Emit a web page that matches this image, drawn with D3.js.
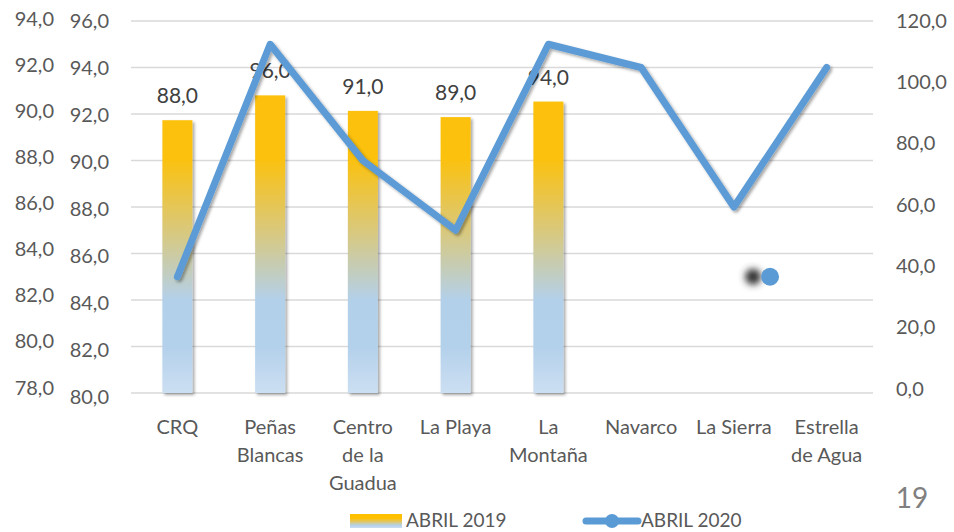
<!DOCTYPE html>
<html>
<head>
<meta charset="utf-8">
<script src="https://cdn.jsdelivr.net/npm/d3@7"></script>
<style>
  body { margin: 0; background: #fff; }
  text { font-family: Lato, "Open Sans", sans-serif; }
</style>
</head>
<body>
<script>
var width = 954;
var height = 532;

// data
var categories = ["CRQ", "Peñas Blancas", "Centro de la Guadua", "La Playa", "La Montaña", "Navarco", "La Sierra", "Estrella de Agua"];
var catLines = [["CRQ"], ["Peñas", "Blancas"], ["Centro", "de la", "Guadua"], ["La Playa"], ["La", "Montaña"], ["Navarco"], ["La Sierra"], ["Estrella", "de Agua"]];
var abril2019 = [88, 96, 91, 89, 94, null, null, null];
var abril2020 = [85, 95, 90, 87, 95, 94, 88, 94];
var leftOuterTicks = [78, 80, 82, 84, 86, 88, 90, 92, 94];
var leftInnerTicks = [80, 82, 84, 86, 88, 90, 92, 94, 96];
var rightTicks = [0, 20, 40, 60, 80, 100, 120];
// lone marker left near La Sierra (index position, value on inner axis)
var strayPoint = [{pos: 6.39, value: 85}];

var fmt = function(v) { return d3.format(".1f")(v).replace(".", ","); };

var svg = d3.select("body")
            .append("svg")
            .attr("width", width)
            .attr("height", height);

var defs = svg.append("defs");

// bar gradient, yellow on top fading into light blue
var grad = defs.append("linearGradient")
               .attr("id", "barGrad")
               .attr("gradientUnits", "userSpaceOnUse")
               .attr("x1", 0).attr("y1", 21)
               .attr("x2", 0).attr("y2", 393);
grad.append("stop").attr("offset", "0").attr("stop-color", "#FFC000");
grad.append("stop").attr("offset", "0.37").attr("stop-color", "#FBC10E");
grad.append("stop").attr("offset", "0.55").attr("stop-color", "#DCC874");
grad.append("stop").attr("offset", "0.75").attr("stop-color", "#B3D0EA");
grad.append("stop").attr("offset", "0.88").attr("stop-color", "#B4D1EB");
grad.append("stop").attr("offset", "1").attr("stop-color", "#CCDFF2");

var legGrad = defs.append("linearGradient")
                  .attr("id", "legGrad")
                  .attr("x1", 0).attr("y1", 0)
                  .attr("x2", 0).attr("y2", 1);
legGrad.append("stop").attr("offset", "0").attr("stop-color", "#FFC000");
legGrad.append("stop").attr("offset", "0.3").attr("stop-color", "#FFC000");
legGrad.append("stop").attr("offset", "0.6").attr("stop-color", "#D8C97E");
legGrad.append("stop").attr("offset", "0.8").attr("stop-color", "#B3D0EA");
legGrad.append("stop").attr("offset", "1").attr("stop-color", "#CCDFF2");

var shadow = defs.append("filter")
                 .attr("id", "shadow")
                 .attr("x", "-20%").attr("y", "-20%")
                 .attr("width", "140%").attr("height", "140%");
shadow.append("feDropShadow")
      .attr("dx", 2).attr("dy", 2)
      .attr("stdDeviation", 1.8)
      .attr("flood-color", "#000")
      .attr("flood-opacity", 0.35);

var blur = defs.append("filter").attr("id", "blur")
               .attr("x", "-100%").attr("y", "-100%")
               .attr("width", "300%").attr("height", "300%");
blur.append("feGaussianBlur").attr("stdDeviation", 3.5);

// scales
var x = d3.scaleBand()
          .domain(categories)
          .range([131, 873]);
var xPos = d3.scaleLinear()
             .domain([0, categories.length - 1])
             .range([x(categories[0]) + x.bandwidth() / 2, x(categories[7]) + x.bandwidth() / 2]);

var yInner = d3.scaleLinear().domain([80, 96]).range([393, 21]);
var yRight = d3.scaleLinear().domain([0, 120]).range([393, 21]);

// label positions of the axes (they drift a bit from the grid)
var yOuterLab = d3.scaleLinear().domain([78, 94]).range([387, 18]);
var yInnerLab = d3.scaleLinear().domain([80, 96]).range([396, 20]);
var yRightLab = d3.scaleLinear().domain([0, 120]).range([388, 20]);

///////////////////////////// grid /////////////////////////////
svg.selectAll("line.grid")
   .data(leftInnerTicks)
   .enter()
   .append("line")
   .attr("class", "grid")
   .attr("x1", 131)
   .attr("x2", 873)
   .attr("y1", function(d) { return yInner(d); })
   .attr("y2", function(d) { return yInner(d); })
   .style("stroke", "#D9D9D9")
   .style("stroke-width", 1.5);

///////////////////////////// axes /////////////////////////////
function styleAxis(g) {
  g.select(".domain").remove();
  g.selectAll(".tick line").remove();
  g.selectAll(".tick text")
   .attr("fill", "#595959")
   .style("font-size", "20px")
   .attr("dy", "0.35em");
}

svg.append("g")
   .attr("transform", "translate(54,0)")
   .call(d3.axisLeft(yOuterLab).tickValues(leftOuterTicks).tickFormat(fmt).tickSize(0).tickPadding(0))
   .call(styleAxis);

svg.append("g")
   .attr("transform", "translate(109,0)")
   .call(d3.axisLeft(yInnerLab).tickValues(leftInnerTicks).tickFormat(fmt).tickSize(0).tickPadding(0))
   .call(styleAxis);

svg.append("g")
   .attr("transform", "translate(896,0)")
   .call(d3.axisRight(yRightLab).tickValues(rightTicks).tickFormat(fmt).tickSize(0).tickPadding(0))
   .call(styleAxis);

// category labels
var catG = svg.selectAll("text.cat")
              .data(catLines)
              .enter()
              .append("text")
              .attr("class", "cat")
              .attr("text-anchor", "middle")
              .attr("fill", "#595959")
              .style("font-size", "20px")
              .attr("x", function(d, i) { return xPos(i); })
              .attr("y", 434);
catG.selectAll("tspan")
    .data(function(d, i) { return d.map(function(s) { return {s: s, i: i}; }); })
    .enter()
    .append("tspan")
    .attr("x", function(d) { return xPos(d.i); })
    .attr("dy", function(d, j) { return j === 0 ? 0 : 28; })
    .text(function(d) { return d.s; });

///////////////////////////// bars (right axis) /////////////////////////////
var barW = 30;
var barData = abril2019.map(function(v, i) { return {i: i, v: v}; })
                       .filter(function(d) { return d.v !== null; });

svg.selectAll("rect.bar")
   .data(barData)
   .enter()
   .append("rect")
   .attr("class", "bar")
   .attr("x", function(d) { return xPos(d.i) - barW / 2; })
   .attr("y", function(d) { return yRight(d.v); })
   .attr("width", barW)
   .attr("height", function(d) { return yRight(0) - yRight(d.v); })
   .attr("fill", "url(#barGrad)")
   .attr("filter", "url(#shadow)");

svg.selectAll("text.barLab")
   .data(barData)
   .enter()
   .append("text")
   .attr("class", "barLab")
   .attr("text-anchor", "middle")
   .attr("fill", "#404040")
   .style("font-size", "21px")
   .attr("x", function(d) { return xPos(d.i); })
   .attr("y", function(d) { return yRight(d.v) - 17; })
   .text(function(d) { return fmt(d.v); });

///////////////////////////// line (inner left axis) /////////////////////////////
var line = d3.line()
             .x(function(d, i) { return xPos(i); })
             .y(function(d) { return yInner(d); });

svg.append("path")
   .datum(abril2020)
   .attr("d", line)
   .attr("fill", "none")
   .style("stroke", "#5B9BD5")
   .style("stroke-width", 7)
   .style("stroke-linejoin", "round")
   .style("stroke-linecap", "round")
   .attr("filter", "url(#shadow)");

// lone marker with its shadow
svg.selectAll("circle.strayShadow")
   .data(strayPoint)
   .enter()
   .append("circle")
   .attr("cx", function(d) { return xPos(d.pos) - 17; })
   .attr("cy", function(d) { return yInner(d.value); })
   .attr("r", 8)
   .attr("fill", "#333")
   .attr("filter", "url(#blur)");

svg.selectAll("circle.stray")
   .data(strayPoint)
   .enter()
   .append("circle")
   .attr("cx", function(d) { return xPos(d.pos); })
   .attr("cy", function(d) { return yInner(d.value); })
   .attr("r", 9)
   .attr("fill", "#5B9BD5");

///////////////////////////// legend /////////////////////////////
var legend = svg.append("g");
legend.append("rect")
      .attr("x", 350).attr("y", 514)
      .attr("width", 52).attr("height", 14)
      .attr("fill", "url(#legGrad)");
legend.append("text")
      .attr("x", 406).attr("y", 527)
      .attr("fill", "#595959")
      .style("font-size", "19px")
      .text("ABRIL 2019");

legend.append("line")
      .attr("x1", 586).attr("x2", 638)
      .attr("y1", 521).attr("y2", 521)
      .style("stroke", "#5B9BD5")
      .style("stroke-width", 7)
      .style("stroke-linecap", "round");
legend.append("circle")
      .attr("cx", 612).attr("cy", 521)
      .attr("r", 7)
      .attr("fill", "#5B9BD5");
legend.append("text")
      .attr("x", 641).attr("y", 527)
      .attr("fill", "#595959")
      .style("font-size", "19px")
      .text("ABRIL 2020");

// page number
svg.append("text")
   .attr("x", 912).attr("y", 508)
   .attr("text-anchor", "middle")
   .attr("fill", "#808080")
   .style("font-size", "28px")
   .text("19");
</script>
</body>
</html>
